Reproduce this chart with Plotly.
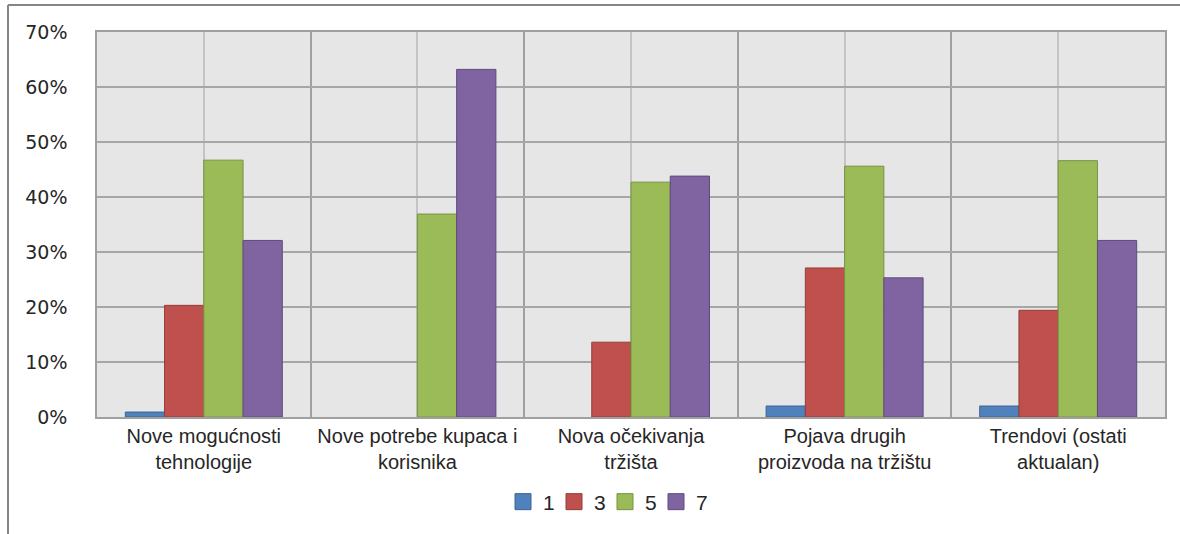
import plotly.graph_objects as go

categories = ["Nove mogućnosti<br>tehnologije", "Nove potrebe kupaca i<br>korisnika",
              "Nova očekivanja<br>tržišta", "Pojava drugih<br>proizvoda na tržištu",
              "Trendovi (ostati<br>aktualan)"]
series_names = ["1", "3", "5", "7"]
s1 = [0.009, 0.0, 0.0, 0.020, 0.020]
s3 = [0.203, 0.0, 0.136, 0.271, 0.194]
s5 = [0.467, 0.369, 0.427, 0.456, 0.466]
s7 = [0.321, 0.632, 0.438, 0.253, 0.321]
y_ticks = [0, 0.1, 0.2, 0.3, 0.4, 0.5, 0.6, 0.7]

fills = ["#4F81BD", "#C0504D", "#9BBB59", "#8064A2"]
edges = ["#3A6596", "#943C3A", "#76923F", "#5F4A7D"]

W, H = 1180, 534
L, R, T, B = 97, 15, 32, 117
pw, ph = W - L - R, H - T - B

xs = list(range(len(categories)))
fig = go.Figure()
for name, vals, fc, ec in zip(series_names, [s1, s3, s5, s7], fills, edges):
    fig.add_trace(go.Bar(x=xs, y=vals, name=name,
                         marker=dict(color=fc, line=dict(color=ec, width=[0 if v == 0 else 1 for v in vals])),
                         showlegend=False))
    fig.add_trace(go.Scatter(x=[None], y=[None], mode="markers", name=name,
                             marker=dict(symbol="square", size=16, color=fc, line=dict(color=ec, width=1))))

fig.update_layout(
    width=W, height=H,
    margin=dict(l=L, r=R, t=T, b=B),
    paper_bgcolor="white", plot_bgcolor="#E6E6E6",
    barmode="group", bargap=0.265, bargroupgap=0,
    font=dict(family="Liberation Sans", color="#262626"),
    legend=dict(orientation="h", x=(605 - L) / pw, xanchor="center", y=(H - B - 502) / ph, yanchor="middle",
                font=dict(size=21, family="Liberation Sans"), itemwidth=30, entrywidth=6,
                bgcolor="rgba(0,0,0,0)"),
    xaxis=dict(range=[-0.5, len(categories) - 0.5], tickmode="array", tickvals=xs, ticktext=categories,
               showgrid=True, gridcolor="#C4C4C4", gridwidth=1.5,
               minor=dict(tickmode="array", tickvals=[i - 0.5 for i in xs] + [len(xs) - 0.5],
                          showgrid=True, gridcolor="#A0A0A0", gridwidth=1.7),
               showline=True, linecolor="#A0A0A0", linewidth=1.5, mirror=True,
               ticks="", tickfont=dict(size=20, family="Liberation Sans", color="#262626"),
               zeroline=False, fixedrange=True),
    yaxis=dict(range=[0, 0.7], tickmode="array", tickvals=y_ticks, tickformat=".0%",
               showgrid=True, gridcolor="#A6A6A6", gridwidth=1.6,
               showline=True, linecolor="#A0A0A0", linewidth=1.5, mirror=True,
               ticks="", ticklabelstandoff=24, tickfont=dict(size=19, family="DejaVu Sans", color="#262626"),
               zeroline=False, fixedrange=True),
    shapes=[
        dict(type="line", xref="paper", yref="paper", x0=(8 - L) / pw, x1=(W + 5 - L) / pw,
             y0=(H - B - 5) / ph, y1=(H - B - 5) / ph, line=dict(color="#868686", width=2)),
        dict(type="line", xref="paper", yref="paper", x0=(8 - L) / pw, x1=(8 - L) / pw,
             y0=(H - B - 5) / ph, y1=(H - B - H - 5) / ph, line=dict(color="#868686", width=2)),
    ],
)

fig.write_html("out.html", config={"displayModeBar": False},
               post_script="document.body.style.margin='0';document.body.style.overflow='hidden';")
